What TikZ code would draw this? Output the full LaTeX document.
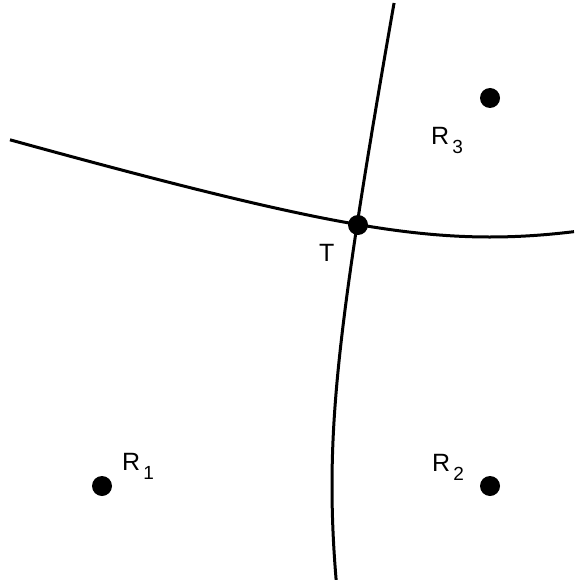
\documentclass[tikz,border=0pt]{standalone}
\usepackage{fontspec}
\setmainfont{Liberation Sans}
\begin{document}
\begin{tikzpicture}[x=1pt,y=-1pt,
  curve/.style={line width=3pt},
  dot/.style={circle,fill=black,inner sep=0pt,minimum size=20pt},
  lbl/.style={anchor=base west,inner sep=0pt,font=\fontsize{25}{25}\selectfont}]
\useasboundingbox (0,0) rectangle (574,580);
\newcommand{\sub}[1]{\hspace{3pt}\raisebox{-9pt}{\fontsize{19}{19}\selectfont #1}}
% hyperbola branch with foci R2,R3
\draw[curve] plot[domain=10:574,samples=200,smooth] (\x,{292-55*sqrt(1+((\x-490)/186.04)^2)});
% hyperbola branch with foci R1,R2
\draw[curve] plot[domain=3:580,samples=200,smooth] ({296+36*sqrt(1+((\x-486)/190.63)^2)},\x);
\node[dot] (R1) at (102,486) {};
\node[dot] (R2) at (490,486) {};
\node[dot] (R3) at (490,98) {};
\node[dot] (T) at (358,225) {};
\node[lbl] (l1) at (122,470) {R\sub{1}};
\node[lbl] (l2) at (432,471) {R\sub{2}};
\node[lbl] (l3) at (431,144.5) {R\sub{3}};
\node[lbl] (lt) at (319,261) {T};
\end{tikzpicture}
\end{document}
